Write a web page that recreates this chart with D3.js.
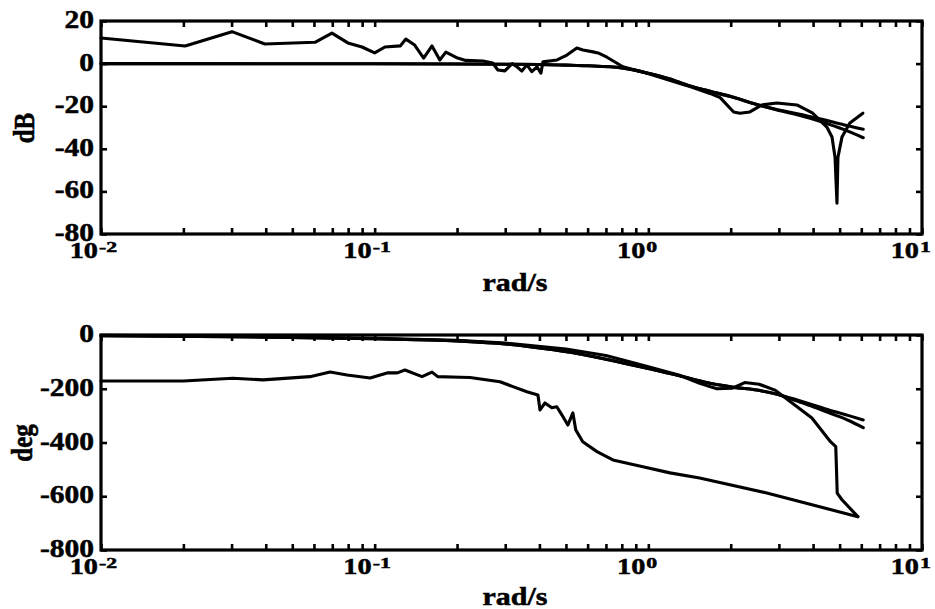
<!DOCTYPE html>
<html>
<head>
<meta charset="utf-8">
<script src="https://cdn.jsdelivr.net/npm/d3@7"></script>
<style>
  html, body { margin: 0; padding: 0; background: #fff; }
  svg { display: block; }
</style>
</head>
<body>
<svg id="chart" width="935" height="609"></svg>
<script>
// ---- Magnitude (dB) ----
const magMeasFreq = [0.0100, 0.0203, 0.0301, 0.0397, 0.0605, 0.0698, 0.0798, 0.0899, 0.100, 0.109,
  0.124, 0.130, 0.140, 0.151, 0.162, 0.173, 0.182, 0.201, 0.215, 0.249, 0.270, 0.282, 0.299, 0.318,
  0.331, 0.345, 0.360, 0.375, 0.392, 0.405, 0.412, 0.464, 0.504, 0.548, 0.577, 0.628, 0.655, 0.706,
  0.807, 1.01, 1.34, 1.42, 1.68, 1.83, 2.05, 2.16, 2.35, 2.60, 2.95, 3.49, 3.99, 4.49, 4.69, 4.81,
  4.89, 4.93, 5.10, 5.45, 6.08];
const magMeas = [12, 8.3, 15, 9.2, 10, 14.3, 9.7, 7.8, 5, 7.8,
  8.3, 11.5, 8.7, 2.6, 8.3, 1.7, 5.4, 2.6, 1.5, 1.2, 0.3, -3, -3.4, 0,
  -1.5, -3.5, -0.6, -3.8, -1.5, -4.5, 0.8, 1.7, 4, 7.3, 6.4, 5.5, 5, 3,
  -1.5, -4.9, -9.8, -10.8, -14, -16, -22.7, -23.3, -22.7, -19.4, -18.5, -19.4, -23.3, -29.8, -34.5, -43.9,
  -65.5, -44, -34.5, -27.9, -23.3];

const magModelFreq = [0.01, 0.1, 0.2, 0.3, 0.4, 0.5, 0.6, 0.8, 1.0, 1.2, 1.42, 1.68, 2.0, 2.49, 3.0, 3.5, 4.35, 5.2, 6.1];
const magModelA = [0, -0.1, -0.2, -0.3, -0.4, -0.7, -1.0, -2.0, -4.5, -7.2, -10.5, -13, -15.5, -19.2, -21.8, -23.5, -26.3, -28.8, -30.8];
const magModelB = [0, -0.1, -0.2, -0.3, -0.4, -0.7, -1.0, -2.0, -4.5, -7.2, -10.5, -13, -15.5, -19.2, -22.0, -24.0, -27.5, -31.0, -34.8];

// ---- Phase (deg) ----
const phaseMeasAFreq = [0.01, 0.02, 0.0303, 0.0391, 0.058, 0.0687, 0.0793, 0.0962, 0.111, 0.121,
  0.129, 0.149, 0.162, 0.170, 0.205, 0.223, 0.287, 0.320, 0.360, 0.395, 0.402, 0.419, 0.444, 0.463,
  0.483, 0.508, 0.530, 0.543, 0.576, 0.649, 0.742, 0.955, 1.20, 1.54, 2.71, 5.83];
const phaseMeasA = [-171, -171, -161, -167, -155, -138, -149, -160, -141, -141,
  -130, -155, -138, -155, -157, -158, -174, -192, -211, -223, -279, -253, -271, -267,
  -297, -335, -290, -353, -397, -434, -465, -490, -513, -532, -588, -676];

const phaseMeasBFreq = [0.01, 0.03, 0.1, 0.2, 0.3, 0.5, 0.7, 1.0, 1.3, 1.54, 1.78, 2.03, 2.25, 2.54,
  2.90, 3.18, 3.96, 4.63, 4.84, 4.87, 4.90, 5.10, 5.83];
const phaseMeasB = [-1, -4, -12, -20, -30, -52, -76, -118, -150, -180, -200, -198, -177, -183,
  -205, -235, -309, -397, -415, -500, -588, -613, -676];

const phaseModelFreq = [0.01, 0.03, 0.1, 0.2, 0.3, 0.45, 0.6, 0.8, 1.0, 1.3, 1.6, 2.0, 2.6, 3.0, 3.5, 4.0, 4.7, 5.4, 6.1];
const phaseModelA = [-3, -6, -14, -22, -33, -55, -76, -103, -125, -152, -175, -193, -208, -222, -242, -260, -283, -300, -316];
const phaseModelB = [-3, -6, -14, -22, -33, -55, -76, -103, -125, -152, -175, -193, -208, -222, -246, -267, -294, -318, -345];

// ---- Axis tick values / labels ----
const magTicks = [20, 0, -20, -40, -60, -80];
const phaseTicks = [0, -200, -400, -600, -800];
const decadeExponents = [-2, -1, 0, 1];

const FONT = '"Liberation Serif", "Times New Roman", Times, serif';
const svg = d3.select("#chart");
const left = 101, right = 922;
const stretch = 1.18;
const x = d3.scaleLog().domain([0.01, 10]).range([left, right]);

const zip = (fs, vs) => fs.map((f, i) => [f, vs[i]]);

// bold serif label, slightly widened and heavy
function label(g, transform, anchor, size, str) {
  return g.append("text")
    .attr("transform", transform)
    .attr("text-anchor", anchor)
    .attr("font-family", FONT)
    .attr("font-weight", "bold")
    .attr("font-size", size)
    .attr("fill", "#000")
    .attr("stroke", "#000")
    .attr("stroke-width", 0.5)
    .text(str);
}

function drawPanel(opt) {
  const y = d3.scaleLinear().domain(opt.domain).range([opt.bottom, opt.top]);
  const g = svg.append("g");

  const line = d3.line().x(d => x(d[0])).y(d => y(d[1]));
  const smooth = d3.line().x(d => x(d[0])).y(d => y(d[1])).curve(d3.curveMonotoneX);

  // curves
  opt.series.forEach(s => {
    g.append("path")
      .datum(s.data)
      .attr("fill", "none")
      .attr("stroke", "#000")
      .attr("stroke-width", 3.1)
      .attr("stroke-linejoin", "round")
      .attr("stroke-linecap", "round")
      .attr("d", s.smooth ? smooth : line);
  });

  // inward ticks on all four sides
  const styleAxis = sel => {
    sel.select(".domain").remove();
    sel.selectAll(".tick line").attr("stroke", "#000").attr("stroke-width", 2.6);
    sel.selectAll(".tick text").remove();
  };
  g.append("g").attr("transform", `translate(0,${opt.bottom})`)
    .call(d3.axisBottom(x).tickSize(-6).tickFormat("")).call(styleAxis);
  g.append("g").attr("transform", `translate(0,${opt.top})`)
    .call(d3.axisTop(x).tickSize(-6).tickFormat("")).call(styleAxis);
  g.append("g").attr("transform", `translate(${left},0)`)
    .call(d3.axisLeft(y).tickValues(opt.ticks).tickSize(-6).tickFormat("")).call(styleAxis);
  g.append("g").attr("transform", `translate(${right},0)`)
    .call(d3.axisRight(y).tickValues(opt.ticks).tickSize(-6).tickFormat("")).call(styleAxis);

  // frame
  g.append("rect")
    .attr("x", left).attr("y", opt.top)
    .attr("width", right - left).attr("height", opt.bottom - opt.top)
    .attr("fill", "none").attr("stroke", "#000").attr("stroke-width", 3.2);

  // y tick labels
  opt.ticks.forEach(v => {
    label(g, `translate(94,${y(v) + 7}) scale(${stretch},1)`, "end", 25, v);
  });

  // x tick labels: 10 with superscript exponent
  decadeExponents.forEach(e => {
    const xp = x(Math.pow(10, e));
    label(g, `translate(${xp - 3},${opt.bottom + 24}) scale(${stretch},1)`, "end", 24, "10");
    label(g, `translate(${xp - 2},${opt.bottom + 18}) scale(1.45,1)`, "start", 15, String(e));
  });

  // axis titles
  label(g, `translate(${opt.yTitleX},${opt.yTitleY}) scale(${stretch},1) rotate(-90)`, "middle", 25, opt.yTitle);
  label(g, `translate(515,${opt.bottom + opt.xTitleOffset}) scale(1.2,1)`, "middle", 25, "rad/s");
}

drawPanel({
  top: 21, bottom: 234, domain: [-80, 20], ticks: magTicks,
  yTitle: "dB", yTitleX: 34, yTitleY: 128, xTitleOffset: 57,
  series: [
    { data: zip(magModelFreq, magModelA), smooth: true },
    { data: zip(magModelFreq, magModelB), smooth: true },
    { data: zip(magMeasFreq, magMeas), smooth: false }
  ]
});

drawPanel({
  top: 335, bottom: 550, domain: [-800, 0], ticks: phaseTicks,
  yTitle: "deg", yTitleX: 32, yTitleY: 443, xTitleOffset: 55,
  series: [
    { data: zip(phaseModelFreq, phaseModelA), smooth: true },
    { data: zip(phaseModelFreq, phaseModelB), smooth: true },
    { data: zip(phaseMeasAFreq, phaseMeasA), smooth: false },
    { data: zip(phaseMeasBFreq, phaseMeasB), smooth: false }
  ]
});
</script>
</body>
</html>
